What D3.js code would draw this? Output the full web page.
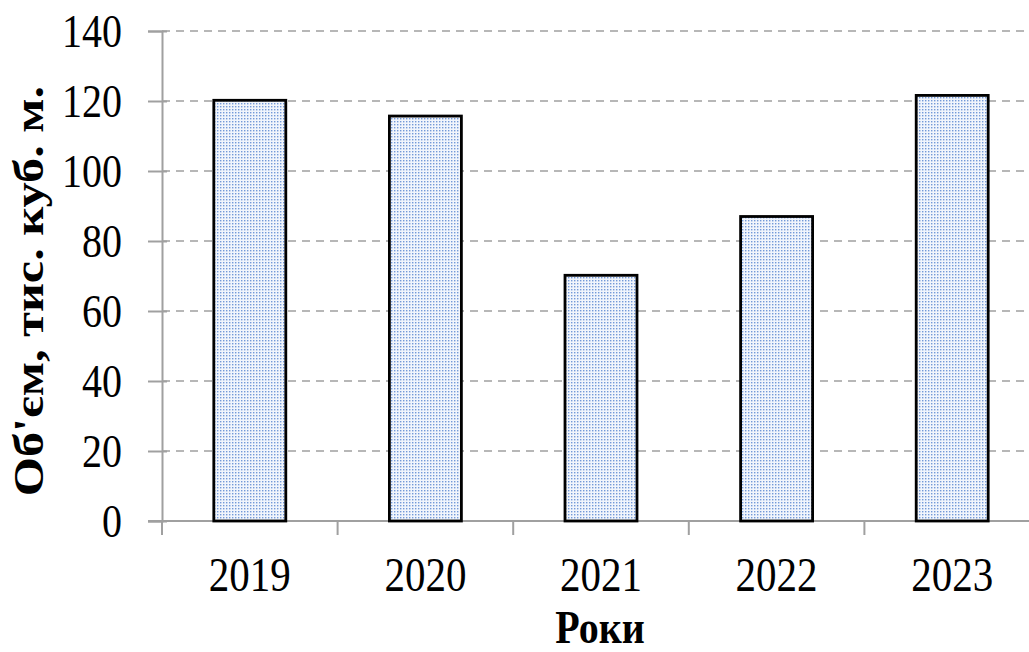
<!DOCTYPE html>
<html>
<head>
<meta charset="utf-8">
<script src="https://d3js.org/d3.v7.min.js"></script>
<style>
  body { margin: 0; background: #fff; }
  text { font-family: "Liberation Serif", "Times New Roman", serif; }
</style>
</head>
<body>
<svg width="1029" height="652"></svg>
<script>
var years = ["2019", "2020", "2021", "2022", "2023"];
var volumes = [120.2, 115.7, 70.2, 87, 121.6];
var yTicks = [0, 20, 40, 60, 80, 100, 120, 140];

var svg = d3.select("svg");
var x0 = 162, x1 = 1040, yBase = 521, yTop = 31;
var stretch = 1.17; // reference text is tall and narrow

var x = d3.scaleBand().domain(years).range([x0, x1]).paddingInner(0.59).paddingOuter(0.295);
var y = d3.scaleLinear().domain([0, 140]).range([yBase, yTop]);

// dotted fill
var defs = svg.append("defs");
var pat = defs.append("pattern")
    .attr("id", "dots")
    .attr("patternUnits", "userSpaceOnUse")
    .attr("width", 3).attr("height", 3);
pat.append("rect").attr("width", 3).attr("height", 3).attr("fill", "#f1f5fc");
pat.append("rect").attr("x", 1).attr("y", 1).attr("width", 1.4).attr("height", 1.4).attr("fill", "#7399d8");

// gridlines
svg.append("g").selectAll("line")
    .data(yTicks.filter(function(d) { return d > 0; }))
    .enter().append("line")
      .attr("x1", x0).attr("x2", 1029)
      .attr("y1", function(d) { return y(d); })
      .attr("y2", function(d) { return y(d); })
      .attr("stroke", "#a0a0a0")
      .attr("stroke-width", 1.3)
      .attr("stroke-dasharray", "8,6");

// y axis
var yAxis = d3.axisLeft(y).tickValues(yTicks).tickSize(14).tickPadding(26);
var gy = svg.append("g").attr("transform", "translate(" + x0 + ",0)").call(yAxis);
gy.select(".domain").attr("stroke", "#a0a0a0").attr("stroke-width", 2);
gy.selectAll(".tick line").attr("stroke", "#a0a0a0").attr("stroke-width", 2).attr("x2", 5).attr("x1", -14);
gy.selectAll("text").attr("font-size", 40).attr("fill", "#000")
    .attr("font-family", "Liberation Serif").attr("dy", "0.34em")
    .attr("transform", "scale(1," + stretch + ")");

// x axis baseline + ticks at band boundaries
svg.append("line").attr("x1", 148).attr("x2", 1029)
    .attr("y1", yBase).attr("y2", yBase)
    .attr("stroke", "#a0a0a0").attr("stroke-width", 2);
var step = x.step();
svg.append("g").selectAll("line")
    .data(d3.range(years.length + 1))
    .enter().append("line")
      .attr("x1", function(i) { return x0 + i * step; })
      .attr("x2", function(i) { return x0 + i * step; })
      .attr("y1", yBase).attr("y2", yBase + 14)
      .attr("stroke", "#a0a0a0").attr("stroke-width", 2);

svg.append("g").selectAll("text")
    .data(years)
    .enter().append("text")
      .attr("transform", function(d) {
        return "translate(" + (x(d) + x.bandwidth() / 2) + ",591) scale(1," + stretch + ")";
      })
      .attr("text-anchor", "middle")
      .attr("font-size", 41)
      .text(function(d) { return d; });

// bars
svg.append("g").selectAll("rect")
    .data(volumes)
    .enter().append("rect")
      .attr("x", function(d, i) { return x(years[i]); })
      .attr("y", function(d) { return y(d); })
      .attr("width", x.bandwidth())
      .attr("height", function(d) { return yBase - y(d); })
      .attr("fill", "url(#dots)")
      .attr("stroke", "#000")
      .attr("stroke-width", 2.8);

// axis titles
svg.append("text")
    .attr("transform", "translate(600,643) scale(1," + stretch + ")")
    .attr("text-anchor", "middle")
    .attr("font-size", 40).attr("font-weight", "bold")
    .text("Роки");

svg.append("text")
    .attr("transform", "translate(43,291) rotate(-90) scale(" + stretch + ",1)")
    .attr("text-anchor", "middle")
    .attr("font-size", 43).attr("font-weight", "bold")
    .text("Об'єм, тис. куб. м.");
</script>
</body>
</html>
